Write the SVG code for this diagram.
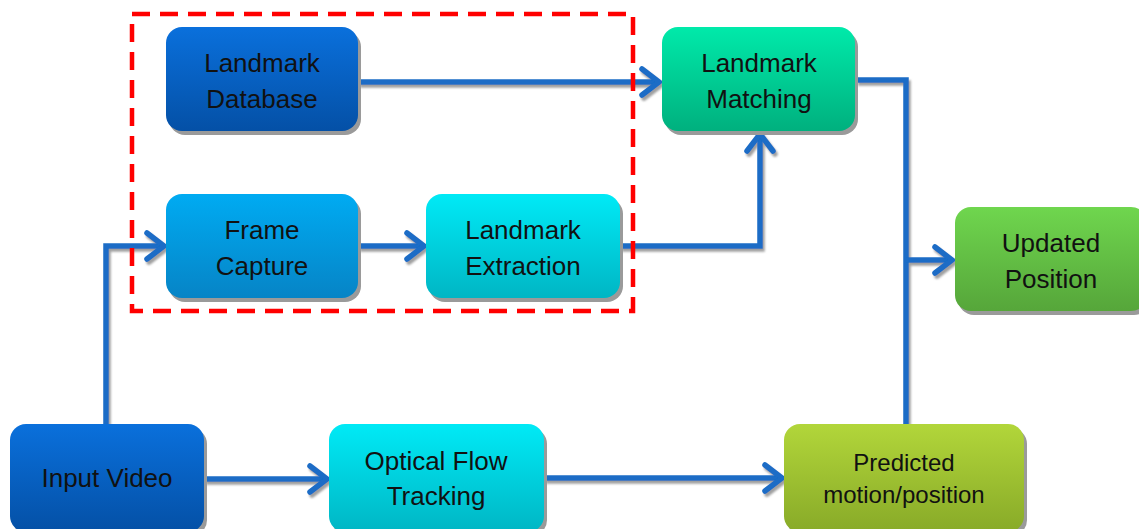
<svg xmlns="http://www.w3.org/2000/svg" width="1139" height="529" viewBox="0 0 1139 529">
<defs>
<style>
.lbl{font-family:"Liberation Sans","DejaVu Sans",sans-serif;font-size:26px;fill:#111;text-anchor:middle}
.sm{font-size:24px}
.sh{fill:#9a9a9a}
.con{fill:none;stroke:#1a6cc6;stroke-width:5.5}
</style>
<linearGradient id="gBlue" x1="0" y1="0" x2="0" y2="1"><stop offset="0" stop-color="#0a70dc"/><stop offset="1" stop-color="#0450a6"/></linearGradient>
<linearGradient id="gSky" x1="0" y1="0" x2="0" y2="1"><stop offset="0" stop-color="#00abf2"/><stop offset="1" stop-color="#0684c6"/></linearGradient>
<linearGradient id="gCyan" x1="0" y1="0" x2="0" y2="1"><stop offset="0" stop-color="#00eaf6"/><stop offset="1" stop-color="#00b6c4"/></linearGradient>
<linearGradient id="gTeal" x1="0" y1="0" x2="0" y2="1"><stop offset="0" stop-color="#00eaaa"/><stop offset="1" stop-color="#00b07e"/></linearGradient>
<linearGradient id="gGreen" x1="0" y1="0" x2="0" y2="1"><stop offset="0" stop-color="#6fd64e"/><stop offset="1" stop-color="#56a63a"/></linearGradient>
<linearGradient id="gLime" x1="0" y1="0" x2="0" y2="1"><stop offset="0" stop-color="#b2d63a"/><stop offset="1" stop-color="#88aa28"/></linearGradient>
<filter id="lsh" x="-10%" y="-10%" width="130%" height="130%"><feDropShadow dx="2" dy="3" stdDeviation="1" flood-color="#777" flood-opacity="0.7"/></filter>
<marker id="arr" markerUnits="userSpaceOnUse" markerWidth="30" markerHeight="36" refX="22" refY="16" orient="auto" viewBox="0 0 30 36">
<path d="M5,3 L22,16 L5,29" fill="none" stroke="#1a6cc6" stroke-width="5.5" stroke-linecap="round" stroke-linejoin="miter"/>
</marker>
</defs>
<rect width="1139" height="529" fill="#fff"/>

<g id="connectors" filter="url(#lsh)">
<path class="con" d="M358,82 L659,82" marker-end="url(#arr)"/>
<path class="con" d="M358,246 L424,246" marker-end="url(#arr)"/>
<path class="con" d="M620,246 L760,246 L760,134" marker-end="url(#arr)"/>
<path class="con" d="M856,80 L906,80 L906,424"/>
<path class="con" d="M906,260 L952,260" marker-end="url(#arr)"/>
<path class="con" d="M106,424 L106,246 L164,246" marker-end="url(#arr)"/>
<path class="con" d="M204,479 L327,479" marker-end="url(#arr)"/>
<path class="con" d="M544,478 L782,478" marker-end="url(#arr)"/>
</g>

<g id="landmark-database">
<rect class="sh" x="169" y="31" width="192" height="104" rx="16"/>
<rect x="166" y="27" width="192" height="104" rx="16" fill="url(#gBlue)"/>
<text class="lbl" x="262" y="72">Landmark</text>
<text class="lbl" x="262" y="108">Database</text>
</g>

<g id="frame-capture">
<rect class="sh" x="169" y="198" width="192" height="104" rx="16"/>
<rect x="166" y="194" width="192" height="104" rx="16" fill="url(#gSky)"/>
<text class="lbl" x="262" y="239">Frame</text>
<text class="lbl" x="262" y="275">Capture</text>
</g>

<g id="landmark-extraction">
<rect class="sh" x="429" y="198" width="194" height="104" rx="16"/>
<rect x="426" y="194" width="194" height="104" rx="16" fill="url(#gCyan)"/>
<text class="lbl" x="523" y="239">Landmark</text>
<text class="lbl" x="523" y="275">Extraction</text>
</g>

<g id="landmark-matching">
<rect class="sh" x="665" y="31" width="193" height="104" rx="16"/>
<rect x="662" y="27" width="193" height="104" rx="16" fill="url(#gTeal)"/>
<text class="lbl" x="759" y="72">Landmark</text>
<text class="lbl" x="759" y="108">Matching</text>
</g>

<g id="updated-position">
<rect class="sh" x="958" y="211" width="192" height="104" rx="16"/>
<rect x="955" y="207" width="192" height="104" rx="16" fill="url(#gGreen)"/>
<text class="lbl" x="1051" y="252">Updated</text>
<text class="lbl" x="1051" y="288">Position</text>
</g>

<g id="input-video">
<rect class="sh" x="13" y="428" width="194" height="108" rx="16"/>
<rect x="10" y="424" width="194" height="108" rx="16" fill="url(#gBlue)"/>
<text class="lbl" x="107" y="487">Input Video</text>
</g>

<g id="optical-flow-tracking">
<rect class="sh" x="332" y="428" width="215" height="108" rx="16"/>
<rect x="329" y="424" width="215" height="108" rx="16" fill="url(#gCyan)"/>
<text class="lbl" x="436" y="470">Optical Flow</text>
<text class="lbl" x="436" y="505">Tracking</text>
</g>

<g id="predicted-motion">
<rect class="sh" x="787" y="428" width="240" height="108" rx="16"/>
<rect x="784" y="424" width="240" height="108" rx="16" fill="url(#gLime)"/>
<text class="lbl sm" x="904" y="471">Predicted</text>
<text class="lbl sm" x="904" y="503">motion/position</text>
</g>

<rect id="group-boundary" x="132" y="14" width="501" height="297" fill="none" stroke="#ff0000" stroke-width="4.5" stroke-dasharray="18 10"/>
</svg>
